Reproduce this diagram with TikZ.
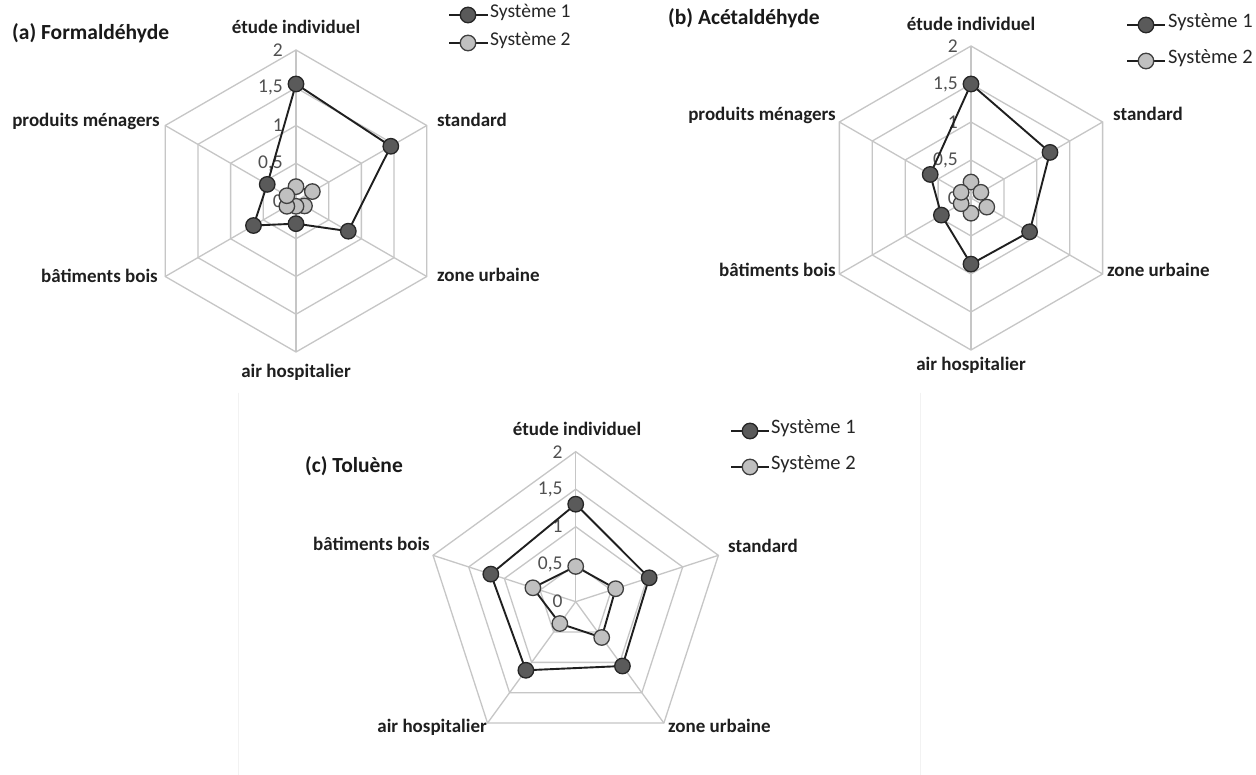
\documentclass[tikz,border=0pt]{standalone}
\usepackage{fontspec}
\setmainfont{Carlito}
\definecolor{gridc}{HTML}{C6C6C6}
\definecolor{sone}{HTML}{5A5A5A}
\definecolor{stwo}{HTML}{C0C0C0}
\definecolor{tickc}{HTML}{505050}
\tikzset{
 gridline/.style={draw=gridc, line width=1.3pt},
 series/.style={draw=black!88, line width=1.9pt, line join=round},
 mkone/.style={circle, draw=black!85, line width=1.3pt, fill=sone, minimum size=15.5pt, inner sep=0pt},
 mktwo/.style={circle, draw=black!75, line width=1.3pt, fill=stwo, minimum size=15.5pt, inner sep=0pt},
 axlabel/.style={font=\fontsize{19}{21}\selectfont\bfseries, text=black!88, inner sep=0pt},
 ticklabel/.style={font=\fontsize{19.5}{21}\selectfont, text=tickc, anchor=east, inner sep=0pt},
 legtext/.style={font=\fontsize{20.5}{22}\selectfont, text=black!85, anchor=mid west, inner sep=0pt},
 legline/.style={draw=black!88, line width=1.9pt},
 titlelab/.style={font=\fontsize{21.5}{23}\selectfont\bfseries, text=black!90, anchor=west, inner sep=0pt},
 frameline/.style={draw=black!5, line width=1pt},
}
% #1 name, #2 centre, #3 pt per unit, #4 number of axes, #5 series 1, #6 series 2
\newcommand\myradar[6]{%
 \begin{scope}[shift={#2}]
  \pgfmathsetmacro\rstep{360/#4}
  \pgfmathtruncatemacro\rlast{#4-1}
  \foreach \rr in {0.5,1,1.5,2}{
   \draw[gridline] ({90}:{\rr*#3}) \foreach \k in {1,...,\rlast}{ -- ({90-\k*\rstep}:{\rr*#3})} -- cycle;
  }
  \foreach \k in {0,...,\rlast} \draw[gridline] (0,0) -- ({90-\k*\rstep}:{2*#3});
  \foreach \t [count=\k from 0] in {0,{0,5},1,{1,5},2} \node[ticklabel] (#1t-\k) at (-13, {\k*0.5*#3}) {\t};
  \foreach \v [count=\k from 0] in {#5} \coordinate (#1a-\k) at ({90-\k*\rstep}:{\v*#3});
  \foreach \v [count=\k from 0] in {#6} \coordinate (#1b-\k) at ({90-\k*\rstep}:{\v*#3});
  \draw[series] (#1a-0) \foreach \k in {1,...,\rlast}{ -- (#1a-\k)} -- cycle;
  \foreach \k in {0,...,\rlast} \node[mkone] (#1ma-\k) at (#1a-\k) {};
  \draw[series] (#1b-0) \foreach \k in {1,...,\rlast}{ -- (#1b-\k)} -- cycle;
  \foreach \k in {0,...,\rlast} \node[mktwo] (#1mb-\k) at (#1b-\k) {};
 \end{scope}}
\begin{document}
\begin{tikzpicture}[x=1pt,y=1pt]
\useasboundingbox (0,0) rectangle (1256,-775);
\fill[white] (0,0) rectangle (1256,-775);
% faint frame of chart (c)
\coordinate (fl1) at (238,-393); \coordinate (fl2) at (238,-775);
\coordinate (fr1) at (920,-393); \coordinate (fr2) at (920,-775);
\draw[frameline] (fl1) -- (fl2);
\draw[frameline] (fr1) -- (fr2);

% ---------- (a) ----------
\myradar{A}{(296,-201)}{75.5}{6}{1.55,1.45,0.8,0.3,0.65,0.44}{0.19,0.25,0.13,0.07,0.14,0.14}
\node[titlelab] (titA) at (12,-33) {(a) Formaldéhyde};
\node[axlabel, anchor=mid] (A-l0) at (296,-31) {étude individuel};
\node[axlabel, anchor=mid west] (A-l1) at (437,-124) {standard};
\node[axlabel, anchor=mid west] (A-l2) at (437,-279) {zone urbaine};
\node[axlabel, anchor=mid] (A-l3) at (296,-375) {air hospitalier};
\node[axlabel, anchor=mid east] (A-l4) at (158,-280) {bâtiments bois};
\node[axlabel, anchor=mid east] (A-l5) at (160,-124) {produits ménagers};
\coordinate (A-g1l) at (449,-15); \coordinate (A-g1r) at (488,-15);
\coordinate (A-g2l) at (449,-43); \coordinate (A-g2r) at (488,-43);
\draw[legline] (A-g1l) -- (A-g1r);
\draw[legline] (A-g2l) -- (A-g2r);
\node[mkone] (A-gm1) at (468,-15) {};
\node[mktwo] (A-gm2) at (468,-43) {};
\node[legtext, font=\fontsize{19.5}{21}\selectfont] (A-gt1) at (490,-15) {Système 1};
\node[legtext, font=\fontsize{19.5}{21}\selectfont] (A-gt2) at (490,-43) {Système 2};

% ---------- (b) ----------
\myradar{B}{(971,-198)}{76}{6}{1.5,1.2,0.89,0.87,0.45,0.62}{0.21,0.15,0.24,0.2,0.15,0.15}
\node[titlelab] (titB) at (668,-18) {(b) Acétaldéhyde};
\node[axlabel, anchor=mid] (B-l0) at (971,-28) {étude individuel};
\node[axlabel, anchor=mid west] (B-l1) at (1113,-118) {standard};
\node[axlabel, anchor=mid west] (B-l2) at (1107,-274) {zone urbaine};
\node[axlabel, anchor=mid] (B-l3) at (971,-368) {air hospitalier};
\node[axlabel, anchor=mid east] (B-l4) at (836,-274) {bâtiments bois};
\node[axlabel, anchor=mid east] (B-l5) at (836,-118) {produits ménagers};
\coordinate (B-g1l) at (1127,-25); \coordinate (B-g1r) at (1165,-25);
\coordinate (B-g2l) at (1127,-61); \coordinate (B-g2r) at (1165,-61);
\draw[legline] (B-g1l) -- (B-g1r);
\draw[legline] (B-g2l) -- (B-g2r);
\node[mkone] (B-gm1) at (1146,-25) {};
\node[mktwo] (B-gm2) at (1146,-61) {};
\node[legtext] (B-gt1) at (1168,-25) {Système 1};
\node[legtext] (B-gt2) at (1168,-61) {Système 2};

% ---------- (c) ----------
\myradar{C}{(575.7,-601.7)}{75}{5}{1.3,1.03,1.06,1.13,1.19}{0.47,0.56,0.59,0.36,0.6}
\node[titlelab] (titC) at (305,-466) {(c) Toluène};
\node[axlabel, anchor=mid] (C-l0) at (577,-433) {étude individuel};
\node[axlabel, anchor=mid west] (C-l1) at (728,-550) {standard};
\node[axlabel, anchor=mid west] (C-l2) at (668,-730) {zone urbaine};
\node[axlabel, anchor=mid east] (C-l3) at (487,-730) {air hospitalier};
\node[axlabel, anchor=mid east] (C-l4) at (430,-548) {bâtiments bois};
\coordinate (C-g1l) at (731,-431); \coordinate (C-g1r) at (769,-431);
\coordinate (C-g2l) at (731,-467); \coordinate (C-g2r) at (769,-467);
\draw[legline] (C-g1l) -- (C-g1r);
\draw[legline] (C-g2l) -- (C-g2r);
\node[mkone] (C-gm1) at (750,-431) {};
\node[mktwo] (C-gm2) at (750,-467) {};
\node[legtext] (C-gt1) at (771,-431) {Système 1};
\node[legtext] (C-gt2) at (771,-467) {Système 2};
\end{tikzpicture}
\end{document}
